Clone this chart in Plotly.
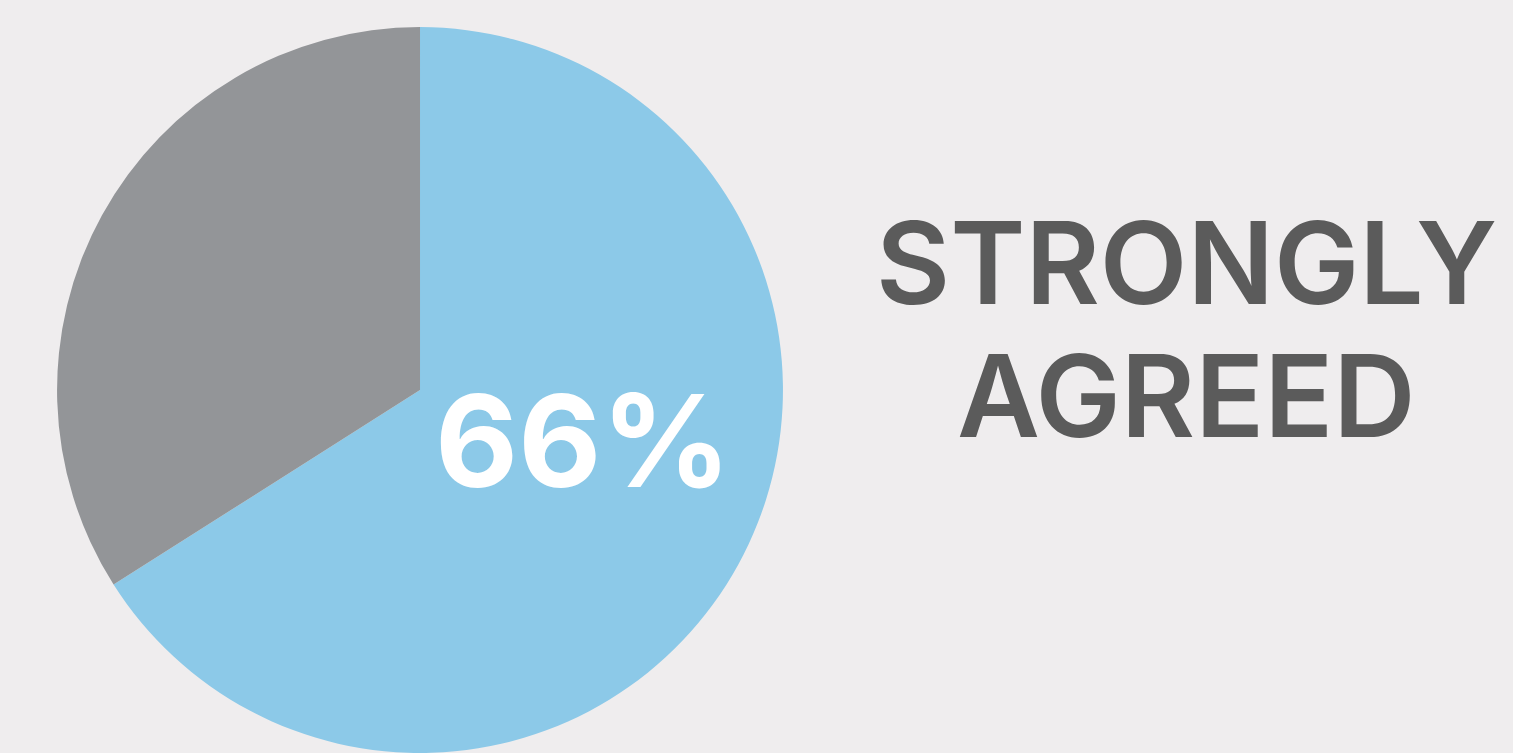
import plotly.graph_objects as go

labels = ["Strongly agreed", "Other"]
values = [66, 34]
colors = ["#8CC9E8", "#939598"]
pct_label = "66%"
caption_lines = ["STRONGLY", "AGREED"]

W, H = 1513, 753
BG = "#EFEDEE"

fig = go.Figure(
    go.Pie(
        labels=labels,
        values=values,
        marker=dict(colors=colors, line=dict(width=0)),
        sort=False,
        direction="clockwise",
        rotation=0,
        textinfo="none",
        hoverinfo="label+percent",
        showlegend=False,
        domain=dict(x=[0.0364, 0.5188], y=[0.0, 0.964]),
    )
)

fig.add_annotation(
    text=pct_label, x=583 / W, y=1 - 440 / H, xref="paper", yref="paper",
    xanchor="center", yanchor="middle", showarrow=False,
    font=dict(family="Inter", size=128, color="white", weight=700),
)
for i, line in enumerate(caption_lines):
    cy = 262 + i * 133
    fig.add_annotation(
        text=line, x=1186 / W, y=1 - cy / H, xref="paper", yref="paper",
        xanchor="center", yanchor="middle", showarrow=False,
        font=dict(family="Inter", size=114, color="#5B5B5B", weight=600),
    )

fig.update_layout(
    width=W, height=H, autosize=False,
    margin=dict(l=0, r=0, t=0, b=0),
    paper_bgcolor=BG, plot_bgcolor=BG,
)
fig.write_html("out.html")
